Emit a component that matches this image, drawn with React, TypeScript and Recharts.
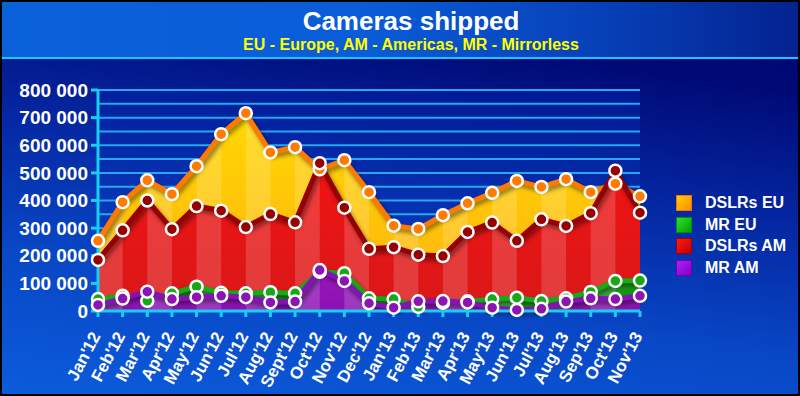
import React from "react";
import { AreaChart, Area, XAxis, YAxis, CartesianGrid } from "recharts";

const months = [
  "Jan'12", "Feb'12", "Mar'12", "Apr'12", "May'12", "Jun'12", "Jul'12", "Aug'12",
  "Sept'12", "Oct'12", "Nov'12", "Dec'12", "Jan'13", "Feb'13", "Mar'13", "Apr'13",
  "May'13", "Jun'13", "Jul'13", "Aug'13", "Sep'13", "Oct'13", "Nov'13",
];
const dslrsEU = [254000, 394000, 473000, 423000, 524000, 640000, 716000, 574000, 593000, 513000, 546000, 430000, 309000, 297000, 347000, 390000, 428000, 471000, 449000, 477000, 430000, 461000, 415000];
const dslrsAM = [185000, 292000, 400000, 296000, 380000, 363000, 304000, 351000, 321000, 535000, 374000, 225000, 231000, 204000, 199000, 286000, 320000, 254000, 332000, 308000, 354000, 508000, 356000];
const mrEU = [43000, 55000, 37000, 64000, 88000, 66000, 64000, 68000, 64000, 142000, 137000, 46000, 43000, 15000, 30000, 35000, 43000, 48000, 36000, 46000, 69000, 109000, 110000];
const mrAM = [22000, 45000, 70000, 43000, 50000, 55000, 50000, 31000, 34000, 148000, 109000, 28000, 12000, 35000, 36000, 31000, 12000, 4000, 8000, 34000, 46000, 43000, 55000];
const yTicks = [0, 100000, 200000, 300000, 400000, 500000, 600000, 700000, 800000];
const gridValues = [50000, 100000, 150000, 200000, 250000, 300000, 350000, 400000, 450000, 500000, 550000, 600000, 650000, 700000, 750000, 800000];

const data = months.map((m, i) => ({
  month: m,
  dslrsEU: dslrsEU[i],
  dslrsAM: dslrsAM[i],
  mrEU: mrEU[i],
  mrAM: mrAM[i],
}));

const W = 800;
const H = 396;
const PLOT_LEFT = 98;
const PLOT_RIGHT = 640;
const STEP = (PLOT_RIGHT - PLOT_LEFT) / (months.length - 1);
const FONT = "'Liberation Sans', Arial, sans-serif";

// draw order: first drawn is at the back
const series = [
  { key: "dslrsEU", name: "DSLRs EU", stroke: "#ff7800", dot: "#ff7a00", top: "#ffe000", bottom: "#ffae10", legendTop: "#ffd000", legendBottom: "#ff8a00", legendBorder: "#ff7000" },
  { key: "dslrsAM", name: "DSLRs AM", stroke: "#960000", dot: "#960000", top: "#ff1010", bottom: "#d81818", legendTop: "#ff1a1a", legendBottom: "#c00000", legendBorder: "#a00000" },
  { key: "mrEU", name: "MR EU", stroke: "#16aa16", dot: "#17a817", top: "#30d030", bottom: "#109010", legendTop: "#30e030", legendBottom: "#00a000", legendBorder: "#009000" },
  { key: "mrAM", name: "MR AM", stroke: "#8412b4", dot: "#8a14b4", top: "#c838e8", bottom: "#8a10b0", legendTop: "#b020ff", legendBottom: "#8000c0", legendBorder: "#7000b0" },
];
const legendOrder = ["dslrsEU", "mrEU", "dslrsAM", "mrAM"];

const fmt = (v: number) => String(v).replace(/\B(?=(\d{3})+(?!\d))/g, " ");

const XTick = (props: any) => {
  const { x, y, payload } = props;
  return (
    <g transform={`translate(${x + 3},${y + 17})`}>
      <text
        x={0}
        y={0}
        textAnchor="end"
        transform="rotate(-62)"
        fill="#ffffff"
        fontSize={17}
        fontWeight="bold"
        fontFamily={FONT}
      >
        {payload.value}
      </text>
    </g>
  );
};

export default function App() {
  return (
    <div
      style={{
        position: "absolute",
        left: 0,
        top: 0,
        width: W,
        height: H,
        boxSizing: "border-box",
        border: "2px solid #000",
        overflow: "hidden",
        background: "linear-gradient(188deg, #00066c 0%, #000a76 18%, #0528a4 45%, #0846c4 70%, #0b5cdc 100%)",
        fontFamily: FONT,
      }}
    >
      <style>{`.recharts-area-curve { filter: drop-shadow(2px 3px 2px rgba(0,0,0,0.45)); }`}</style>
      <div
        style={{
          position: "absolute",
          left: 0,
          top: 0,
          width: W,
          height: 55,
          background: "linear-gradient(90deg, #0a62da 0%, #0a5cd8 45%, #0740b8 75%, #04228f 100%)",
          borderBottom: "2px solid #19c6ff",
        }}
      />
      <div style={{ position: "absolute", left: -2, top: -2 }}>
        <AreaChart
          width={W}
          height={H}
          data={data}
          margin={{ top: 90, right: 160, bottom: 0, left: 0 }}
        >
          <defs>
            <linearGradient id="plotBg" x1="0" y1="0" x2="0" y2="1">
              <stop offset="0%" stopColor="#0220a0" stopOpacity={0.55} />
              <stop offset="100%" stopColor="#0a44c8" stopOpacity={0.5} />
            </linearGradient>
            {series.map((s) => (
              <linearGradient key={`g-${s.key}`} id={`grad-${s.key}`} x1="0" y1="0" x2="0" y2="1">
                <stop offset="20%" stopColor={s.top} />
                <stop offset="80%" stopColor={s.bottom} />
              </linearGradient>
            ))}
            {series.map((s) => (
              <pattern
                key={`p-${s.key}`}
                id={`pat-${s.key}`}
                patternUnits="userSpaceOnUse"
                x={PLOT_LEFT}
                y={0}
                width={STEP * 2}
                height={H}
              >
                <rect x={0} y={0} width={STEP * 2} height={H} fill={`url(#grad-${s.key})`} />
                <rect x={0} y={0} width={STEP} height={H} fill="#ffffff" opacity={0.16} />
              </pattern>
            ))}
          </defs>
          <CartesianGrid
            horizontal
            vertical={false}
            horizontalValues={gridValues}
            stroke="#2aa6f0"
            strokeWidth={2}
            fill="url(#plotBg)"
          />
          <XAxis
            dataKey="month"
            height={85}
            interval={0}
            tick={<XTick />}
            axisLine={{ stroke: "#14d0f4", strokeWidth: 3 }}
            tickLine={{ stroke: "#14d0f4", strokeWidth: 3 }}
            tickSize={6}
          />
          <YAxis
            width={98}
            domain={[0, 800000]}
            ticks={yTicks}
            interval={0}
            tickFormatter={fmt}
            axisLine={{ stroke: "#14d0f4", strokeWidth: 3 }}
            tickLine={{ stroke: "#14d0f4", strokeWidth: 3 }}
            tickSize={7}
            tickMargin={3}
            tick={{ fill: "#ffffff", fontSize: 19, fontWeight: "bold", fontFamily: FONT }}
          />
          {series.map((s) => (
            <Area
              key={s.key}
              type="linear"
              dataKey={s.key}
              name={s.name}
              stroke={s.stroke}
              strokeWidth={5}
              fill={`url(#pat-${s.key})`}
              fillOpacity={1}
              dot={{ r: 6, fill: s.dot, stroke: "#ffffff", strokeWidth: 2.5, fillOpacity: 1 }}
              activeDot={false}
              isAnimationActive={false}
            />
          ))}
        </AreaChart>
      </div>
      <div style={{ position: "absolute", left: 674, top: 190, fontFamily: FONT }}>
        {legendOrder.map((k) => {
          const s = series.find((q) => q.key === k)!;
          return (
            <div key={k} style={{ display: "flex", alignItems: "center", height: 21.7 }}>
              <div
                style={{
                  width: 14,
                  height: 14,
                  border: `1px solid ${s.legendBorder}`,
                  background: `linear-gradient(135deg, ${s.legendTop}, ${s.legendBottom})`,
                  marginRight: 13,
                }}
              />
              <span style={{ color: "#ffffff", fontWeight: "bold", fontSize: 16 }}>{s.name}</span>
            </div>
          );
        })}
      </div>
      <svg width={W} height={60} style={{ position: "absolute", left: -2, top: -2 }}>
        <text x={411} y={30} textAnchor="middle" fill="#ffffff" fontSize={26} fontWeight="bold" fontFamily={FONT}>
          Cameras shipped
        </text>
        <text x={411} y={50} textAnchor="middle" fill="#ffff00" fontSize={16} fontWeight="bold" fontFamily={FONT}>
          EU - Europe, AM - Americas, MR - Mirrorless
        </text>
      </svg>
    </div>
  );
}
